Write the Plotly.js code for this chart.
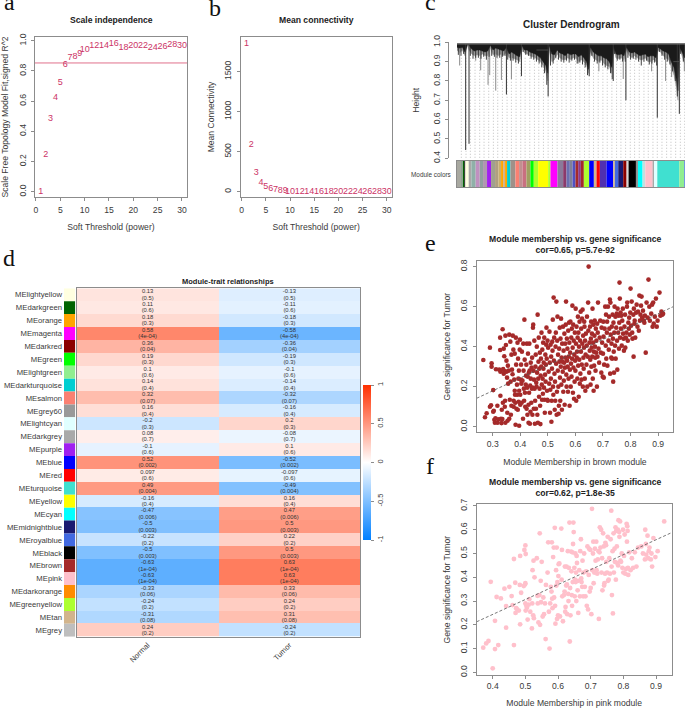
<!DOCTYPE html>
<html><head><meta charset="utf-8">
<script src="https://cdn.plot.ly/plotly-3.0.1.min.js"></script>
<style>html,body{margin:0;padding:0;background:#fff}</style></head>
<body><div id="chart" style="width:685px;height:708px"></div>
<script>
// ---- panels a, b
const powers=[1,2,3,4,5,6,7,8,9,10,12,14,16,18,20,22,24,26,28,30];
const scaleFit=[0,0.245,0.48,0.625,0.723,0.838,0.886,0.895,0.916,0.94,0.965,0.97,0.978,0.956,0.97,0.97,0.954,0.963,0.976,0.97];
const meanConn=[1850,587,237,108,58,37,21,13,8,5,3,2,1,1,1,1,0,0,0,0];
const cutHeight=0.853;
// ---- panel c (leaf position along the dendrogram, height)
const dendX=[172,180,188,196,204,208,216,224,232,240,248,256,264,272,280,288,296,304,312,320,328,336,344,352,360,366,374,382,390,398,406,414,422,430,438,444,448,456,464,472,480,488,496,504,512,520,528,536,544,552,560,566,572,580,588,596,604,612,620,628,636,641,648,656,664,672,680,688,696,704,712,720,728,736,744,752,760,768,774,782,790,798,806,814,822,830,834,838,846,854];
const dendBlack=[.975,.97,.975,.95,.99,.985,.965,.955,.96,.96,.955,.95,.955,.985,.96,.97,.965,.96,.955,.975,.94,.95,.94,.93,.925,.985,.96,.96,.95,.945,.94,.93,.92,.9,.88,.84,.985,.94,.935,.96,.945,.94,.93,.945,.935,.94,.94,.925,.935,.92,.9,.86,.975,.95,.94,.93,.93,.92,.915,.9,.87,.98,.94,.935,.94,.93,.975,.95,.945,.95,.94,.93,.935,.94,.925,.93,.93,.92,.975,.965,.955,.95,.94,.9,.87,.8,.75,.98,.95,.92];
const dendGrey=[.96,.945,.96,.93,.99,.96,.94,.93,.935,.93,.94,.93,.93,.97,.935,.94,.93,.94,.93,.95,.92,.92,.915,.91,.9,.97,.945,.94,.93,.925,.92,.91,.9,.88,.85,.8,.96,.9,.91,.94,.92,.91,.91,.92,.91,.92,.92,.9,.91,.9,.88,.84,.95,.92,.91,.9,.91,.89,.88,.875,.84,.97,.92,.915,.92,.91,.96,.93,.92,.93,.92,.91,.91,.92,.9,.9,.91,.9,.96,.95,.93,.92,.91,.87,.83,.76,.7,.97,.93,.89];
const stickX=[176,184,192,212,220,228,236,244,252,260,268,276,284,292,300,308,316,324,332,340,348,356,370,378,386,394,402,410,418,426,434,441,452,460,468,476,484,492,500,508,516,524,532,540,548,556,563,576,584,592,600,608,616,624,632,637,644,652,660,668,676,684,692,700,708,716,724,732,740,748,756,764,770,778,786,794,802,810,818,826,842,850];
const stickLow=[.935,.93,.94,.93,.915,.92,.92,.915,.925,.91,.925,.93,.925,.92,.92,.925,.93,.91,.905,.905,.895,.89,.95,.935,.93,.915,.91,.90,.89,.87,.84,.78,.88,.89,.92,.91,.90,.895,.905,.895,.905,.91,.89,.895,.885,.87,.83,.93,.90,.89,.895,.88,.87,.86,.84,.81,.94,.905,.91,.90,.90,.92,.91,.915,.91,.90,.88,.90,.905,.885,.89,.895,.88,.95,.93,.91,.90,.885,.85,.80,.94,.90];
const spikeDarkX=[198,208,320,365,445,568,640,678,772,832,838];
const spikeDarkLow=[.443,.475,.73,.825,.72,.825,.80,.70,.61,.72,.63];
const spikeGreyX=[180,228,243,265,270,288,305,335,535,597,670,755,797,815,853];
const spikeGreyLow=[.88,.905,.855,.78,.83,.75,.805,.81,.89,.85,.81,.85,.80,.82,.85];
const mergeStart=[410,820];
const mergeEnd=[445,838];
const mergeHeight=[.96,.9];
const guideX=[185,199,212,226,240,253,267,281,294,308,322,335,349,363,376,390,404,417,431,445,458,472,486,499,513,527,540,554,568,581,595,609,622,636,650,663,677,691,704,718,732,745,759,772,786,800,813,827,841,854];
const bandColors=['#a8a8a0','#8fa890','#006400','#000000','#ffffe0','#a9a9a9','#8fb0a8','#c090c0','#90a0a0','#b098b0','#a020f0','#a0a090','#b0a080','#c8b070','#ffa500','#d2b48c','#ffa500','#00ced1','#a09088','#fa8072','#c09090','#c87080','#a0a060','#00ff00','#adff2f','#ffff00','#adff2f','#ff00ff','#8a7a9a','#8b3a6a','#6a70b0','#808098','#5050c0','#a52a2a','#8b3a8a','#a52a2a','#adff2f','#0000ff','#d2b48c','#ff0000','#5030b0','#0000ff','#d2b48c','#4169e1','#191970','#8b0000','#d8d8d8','#000000','#909090','#00ffff','#c0e0e0','#ffc0cb','#a0a0a0','#e0ffff','#40e0d0','#90ee90','#4169e1'];
const bandWidths=[12,6,4,3,10,8,13,12,10,12,12,12,10,8,6,6,6,10,15,11,10,12,12,10,13,30,7,21,17,10,10,8,9,8,8,9,16,14,8,10,20,20,5,10,15,10,6,22,6,14,8,22,4,10,66,15,2];
// ---- panel d
const modules=['MElightyellow','MEdarkgreen','MEorange','MEmagenta','MEdarkred','MEgreen','MElightgreen','MEdarkturquoise','MEsalmon','MEgrey60','MElightcyan','MEdarkgrey','MEpurple','MEblue','MEred','MEturquoise','MEyellow','MEcyan','MEmidnightblue','MEroyalblue','MEblack','MEbrown','MEpink','MEdarkorange','MEgreenyellow','MEtan','MEgrey'];
const moduleColors=['#ffffe0','#006400','#ffa500','#ff00ff','#8b0000','#00ff00','#90ee90','#00ced1','#fa8072','#999999','#e0ffff','#a9a9a9','#a020f0','#0000ff','#ff0000','#40e0d0','#ffff00','#00ffff','#191970','#4169e1','#000000','#a52a2a','#ffc0cb','#ff8c00','#adff2f','#d2b48c','#bebebe'];
const traits=['Normal','Tumor'];
const corNormal=['0.13','0.11','0.18','0.58','0.36','0.19','0.1','0.14','0.32','0.16','-0.2','0.08','-0.1','0.52','0.097','0.49','-0.16','-0.47','-0.5','-0.22','-0.5','-0.63','-0.63','-0.33','-0.24','-0.31','0.24'];
const corTumor=['-0.13','-0.11','-0.18','-0.58','-0.36','-0.19','-0.1','-0.14','-0.32','-0.16','0.2','-0.08','0.1','-0.52','-0.097','-0.49','0.16','0.47','0.5','0.22','0.5','0.63','0.63','0.33','0.24','0.31','-0.24'];
const pValues=['0.5','0.6','0.3','4e-04','0.04','0.3','0.6','0.4','0.07','0.4','0.3','0.7','0.6','0.002','0.6','0.004','0.4','0.006','0.003','0.2','0.003','1e-04','1e-04','0.06','0.2','0.08','0.2'];
const corScale=[[0,'#0080ff'],[0.5,'#ffffff'],[1,'#ff3000']];
// ---- panel e (membership, significance, in thousandths)
const brownPoints=[[266,333],[272,47],[278,67],[290,395],[290,100],[294,107],[296,317],[296,300],[302,183],[302,75],[304,80],[306,35],[308,20],[310,42],[312,287],[317,105],[318,20],[320,37],[324,285],[327,383],[327,445],[328,155],[328,275],[330,40],[332,18],[333,85],[335,38],[336,487],[337,120],[338,288],[340,390],[340,265],[342,278],[342,352],[344,100],[345,130],[346,455],[346,20],[348,408],[350,275],[350,330],[352,245],[353,70],[354,30],[355,305],[356,215],[358,280],[360,40],[360,460],[362,135],[364,425],[365,225],[366,60],[368,360],[368,105],[370,285],[372,262],[373,455],[375,385],[376,100],[376,130],[378,235],[380,180],[380,365],[381,160],[382,120],[383,10],[384,445],[385,310],[386,90],[388,210],[389,160],[390,420],[391,85],[392,340],[393,240],[394,125],[395,280],[396,5],[396,180],[398,385],[399,435],[400,110],[400,160],[402,235],[403,310],[404,215],[405,120],[406,375],[408,230],[410,40],[411,415],[412,280],[413,190],[414,130],[415,535],[416,335],[417,170],[418,100],[420,210],[421,255],[422,310],[423,90],[424,415],[425,195],[426,60],[427,250],[428,365],[430,20],[430,110],[431,270],[432,170],[433,415],[434,280],[435,15],[436,205],[437,75],[438,320],[438,240],[440,120],[441,295],[442,190],[443,345],[444,60],[445,195],[446,495],[447,510],[448,280],[449,90],[450,235],[451,430],[452,190],[453,15],[454,130],[455,300],[456,360],[457,90],[458,220],[459,200],[460,400],[461,270],[462,60],[463,560],[464,20],[465,240],[466,325],[467,445],[468,150],[469,290],[470,190],[471,370],[472,105],[473,13],[474,255],[475,340],[476,300],[477,470],[478,210],[479,135],[480,385],[481,240],[482,165],[483,420],[484,290],[485,320],[486,195],[487,445],[488,135],[489,70],[490,260],[491,360],[492,225],[493,310],[494,410],[495,495],[496,340],[497,180],[498,135],[499,430],[500,130],[501,395],[503,275],[505,215],[506,475],[507,320],[508,70],[509,185],[510,410],[511,240],[512,350],[513,25],[514,130],[515,290],[516,425],[517,380],[518,535],[519,200],[520,160],[521,645],[522,330],[523,445],[524,265],[525,85],[526,225],[527,130],[528,400],[529,470],[530,315],[531,625],[532,60],[533,175],[534,430],[535,550],[536,280],[537,360],[538,200],[539,65],[540,105],[541,390],[542,325],[543,495],[544,245],[545,130],[546,440],[547,300],[548,540],[549,210],[550,345],[551,85],[552,415],[553,325],[554,275],[555,500],[556,175],[557,380],[558,230],[559,320],[560,465],[561,110],[562,295],[563,415],[564,345],[565,510],[566,625],[567,260],[568,200],[569,440],[570,330],[571,390],[572,300],[573,175],[574,480],[575,240],[576,350],[577,520],[578,420],[579,105],[580,285],[581,370],[582,525],[583,200],[584,315],[585,445],[586,250],[587,490],[588,340],[589,605],[590,395],[591,170],[592,510],[593,295],[594,430],[595,140],[596,360],[597,225],[598,470],[599,330],[600,280],[601,590],[602,415],[603,130],[604,500],[605,345],[606,375],[607,240],[608,445],[609,550],[610,305],[611,470],[612,150],[613,400],[614,335],[615,525],[616,215],[617,430],[618,265],[619,575],[620,375],[621,490],[622,235],[623,310],[624,540],[625,415],[626,585],[627,200],[628,455],[629,345],[630,290],[631,395],[632,525],[633,500],[634,240],[635,430],[636,180],[637,360],[638,465],[640,310],[641,405],[642,550],[643,200],[645,350],[646,620],[647,480],[648,800],[650,270],[651,420],[652,380],[653,500],[654,335],[655,210],[656,440],[657,525],[658,300],[659,395],[660,465],[661,350],[662,590],[663,240],[664,420],[665,510],[666,180],[667,375],[668,305],[669,455],[670,530],[671,400],[672,345],[673,280],[674,490],[675,370],[676,430],[678,200],[679,515],[680,350],[681,470],[682,620],[684,390],[686,320],[688,445],[690,530],[692,370],[694,270],[695,495],[697,420],[699,250],[700,365],[701,525],[702,450],[703,245],[704,310],[706,490],[708,600],[710,405],[711,560],[712,340],[714,470],[715,525],[716,305],[718,600],[720,430],[721,385],[722,550],[723,490],[725,635],[726,265],[727,620],[728,460],[730,345],[731,415],[732,500],[733,340],[735,560],[736,440],[737,225],[738,520],[739,375],[740,270],[741,470],[742,600],[744,405],[745,550],[746,340],[748,495],[750,565],[751,430],[752,285],[753,590],[755,470],[756,555],[758,390],[759,520],[760,720],[761,640],[762,445],[764,570],[765,490],[766,555],[768,405],[770,530],[772,590],[773,465],[775,440],[776,380],[778,500],[780,560],[781,395],[783,445],[785,470],[787,600],[788,620],[790,430],[792,520],[794,490],[795,545],[797,460],[799,570],[800,690],[802,505],[804,625],[806,470],[807,440],[810,560],[811,350],[812,590],[814,515],[815,530],[817,445],[820,570],[822,610],[825,500],[827,575],[830,480],[832,655],[834,530],[836,560],[838,605],[840,650],[842,545],[845,580],[848,530],[850,520],[852,555],[855,370],[858,620],[862,545],[865,735],[868,600],[870,530],[875,565],[878,610],[880,500],[882,620],[884,515],[888,550],[892,640],[895,500],[898,530],[905,670],[908,555],[912,575],[915,560],[918,565]];
const brownFitX=[0.242,0.955];
const brownFitY=[0.142,0.6];
// ---- panel f
const pinkPoints=[[371,104],[380,122],[387,132],[394,381],[400,17],[407,98],[407,217],[412,317],[417,115],[425,311],[436,352],[441,188],[441,279],[451,360],[458,321],[461,283],[465,115],[465,477],[469,377],[470,250],[472,270],[475,265],[480,260],[483,368],[484,490],[484,202],[487,335],[495,363],[497,515],[499,370],[500,534],[501,498],[500,375],[500,290],[501,260],[503,280],[505,272],[507,222],[510,285],[512,308],[515,255],[520,185],[521,290],[522,430],[524,240],[525,470],[526,228],[528,400],[535,480],[537,322],[538,290],[540,210],[543,325],[544,585],[545,200],[547,385],[548,295],[550,465],[553,235],[555,315],[557,245],[560,290],[562,140],[563,368],[568,420],[570,547],[572,255],[574,100],[576,290],[578,360],[580,340],[581,547],[582,310],[583,270],[585,485],[587,525],[588,315],[590,608],[591,280],[592,205],[594,430],[595,365],[596,525],[597,225],[598,380],[600,240],[601,405],[602,455],[604,458],[606,235],[610,605],[611,390],[612,515],[613,320],[615,215],[618,325],[620,340],[621,445],[622,255],[623,275],[625,365],[626,445],[627,370],[628,245],[630,510],[631,330],[632,300],[633,440],[635,630],[636,130],[637,355],[638,240],[640,508],[641,425],[642,325],[643,280],[644,505],[645,380],[646,540],[647,630],[648,590],[650,440],[651,320],[652,390],[653,500],[654,380],[655,420],[656,300],[657,490],[658,460],[660,345],[661,385],[662,250],[665,430],[667,320],[668,510],[670,560],[671,395],[672,380],[674,360],[675,470],[677,320],[678,420],[680,500],[682,360],[684,320],[686,425],[688,280],[690,530],[692,265],[694,410],[695,520],[697,340],[699,515],[700,355],[702,245],[704,688],[705,430],[707,500],[708,550],[709,375],[711,420],[713,520],[715,470],[717,550],[718,430],[720,415],[722,475],[724,510],[725,225],[727,505],[728,610],[730,525],[732,600],[733,420],[735,480],[736,345],[738,585],[740,530],[741,365],[742,375],[744,415],[745,545],[747,535],[748,465],[750,420],[752,570],[753,385],[755,390],[757,480],[759,415],[761,560],[763,680],[764,445],[765,325],[767,510],[768,248],[770,585],[771,420],[773,520],[774,465],[776,610],[777,390],[778,595],[780,530],[781,460],[783,600],[784,450],[785,640],[787,590],[788,570],[790,635],[791,470],[793,465],[795,500],[797,440],[799,600],[800,420],[802,490],[804,580],[806,415],[808,435],[810,625],[811,550],[812,615],[813,595],[814,440],[815,410],[818,505],[822,430],[826,480],[830,440],[835,505],[840,445],[845,525],[855,530],[860,500],[866,475],[867,600],[869,540],[870,495],[874,575],[876,480],[878,510],[880,525],[884,475],[886,500],[888,445],[892,565],[898,485],[905,510],[925,635]];
const pinkFitX=[0.351,0.948];
const pinkFitY=[0.213,0.588];

// ---- layout helpers
const W=685,H=708,SANS='"Liberation Sans",Arial,sans-serif',SERIF='"Liberation Serif",serif',INK='#3a3a3a',BOX='#8c8c8c',RED='#cc3366';
const dx=(a,b)=>[a/W,b/W], dy=(t,b)=>[1-b/H,1-t/H];
const tf={family:SANS,size:8.6,color:INK};
function rAxis(dom,range,extra){return Object.assign({domain:dom,range:range,showgrid:false,zeroline:false,showline:true,mirror:true,linecolor:BOX,linewidth:1,ticks:'outside',ticklen:3,tickwidth:1,tickcolor:BOX,tickfont:tf},extra);}
function hidden(dom,range,extra){return Object.assign({domain:dom,range:range,showgrid:false,zeroline:false,showticklabels:false,ticks:'',showline:false},extra);}
function axTitle(t,s){return {text:t,font:tf,standoff:s};}
function note(t,px,py,o){return Object.assign({text:t,xref:'paper',yref:'paper',x:px/W,y:1-py/H,showarrow:false,xanchor:'center',yanchor:'middle',font:{family:SANS,size:8.6,color:'#222'}},o||{});}
function letter(t,px,py){return note(t,px,py,{font:{family:SERIF,size:24,color:'#111'},xanchor:'left',yanchor:'bottom'});}
const thousandths=v=>v/1000;

// ---- traces
const traces=[];
traces.push({type:'scatter',mode:'lines',x:[-5,40],y:[cutHeight,cutHeight],line:{color:'#e0708c',width:1},xaxis:'x',yaxis:'y',hoverinfo:'skip'});
traces.push({type:'scatter',mode:'text',x:powers,y:scaleFit,text:powers.map(String),textfont:{family:SANS,size:9,color:RED},textposition:'middle center',xaxis:'x',yaxis:'y'});
traces.push({type:'scatter',mode:'text',x:powers,y:meanConn,text:powers.map(String),textfont:{family:SANS,size:9,color:RED},textposition:'middle center',xaxis:'x2',yaxis:'y2'});
// dendrogram
const gx=[],gy=[];
guideX.forEach(v=>{gx.push(v,v,null);gy.push(0.92,0.4,null);});
traces.push({type:'scatter',mode:'lines',x:gx,y:gy,line:{color:'#b0b0b0',width:0.8,dash:'1px,2px'},xaxis:'x3',yaxis:'y3',hoverinfo:'skip'});
const mergeTop=0.993;
function massTrace(low,color){return {type:'scatter',mode:'lines',x:dendX.concat(dendX.slice().reverse()),y:low.concat(dendX.map(()=>mergeTop)),fill:'toself',fillcolor:color,line:{color:color,width:0.5},xaxis:'x3',yaxis:'y3',hoverinfo:'skip'};}
traces.push(massTrace(dendGrey,'#9a9a9a'));
function spikes(xs,lows,color,w){const x=[],y=[];xs.forEach((v,i)=>{x.push(v,v,null);y.push(mergeTop,lows[i],null);});return {type:'scatter',mode:'lines',x:x,y:y,line:{color:color,width:w},xaxis:'x3',yaxis:'y3',hoverinfo:'skip'};}
traces.push(spikes(spikeGreyX,spikeGreyLow,'#8a8a8a',1));
traces.push(spikes(stickX,stickLow,'#2a2a2a',0.9));
traces.push(massTrace(dendBlack,'#1a1a1a'));
traces.push(spikes(spikeDarkX,spikeDarkLow,'#333333',1));
const mx=[],my=[];
mergeStart.forEach((v,i)=>{mx.push(v,mergeEnd[i],null);my.push(mergeHeight[i],mergeHeight[i],null);});
traces.push({type:'scatter',mode:'lines',x:mx,y:my,line:{color:'#555',width:0.8},xaxis:'x3',yaxis:'y3',hoverinfo:'skip'});
traces.push({type:'scatter',mode:'lines',x:[172,855],y:[mergeTop,mergeTop],line:{color:'#777',width:1.5},xaxis:'x3',yaxis:'y3',hoverinfo:'skip'});
let cum=172;const bandCentres=bandWidths.map(w=>{const c=cum+w/2;cum+=w;return c;});
traces.push({type:'bar',x:bandCentres,y:bandWidths.map(()=>1),width:bandWidths,marker:{color:bandColors,line:{width:0}},xaxis:'x4',yaxis:'y4',hoverinfo:'skip'});
// module heat map
traces.push({type:'bar',orientation:'h',y:modules,x:modules.map(()=>1),width:modules.map(()=>1),marker:{color:moduleColors,line:{width:0}},xaxis:'x5',yaxis:'y5',hoverinfo:'skip'});
traces.push({type:'heatmap',x:[0,1],y:modules.map((m,i)=>i),z:modules.map((m,i)=>[+corNormal[i],+corTumor[i]]),
 zmin:-1,zmax:1,colorscale:corScale,xaxis:'x6',yaxis:'y6',xgap:0,ygap:0,
 colorbar:{thickness:8.4,thicknessmode:'pixels',len:155,lenmode:'pixels',x:363.3/W,xanchor:'left',y:1-462.5/H,yanchor:'middle',outlinewidth:0,ticks:'outside',ticklen:3,tickcolor:BOX,tickvals:[-1,-0.5,0,0.5,1],ticktext:['-1','-0.5','0','0.5','1'],tickangle:-90,tickfont:{family:SANS,size:7.5,color:INK},xpad:0,ypad:0}});
const cellFont={family:SANS,size:5.8,color:'#333'};
function cellText(col,vals,shift,wrap){return {type:'scatter',mode:'text',x:modules.map(()=>col),y:modules.map((m,i)=>i+shift),text:vals.map(wrap),textfont:cellFont,textposition:'middle center',xaxis:'x6',yaxis:'y6',hoverinfo:'skip'};}
const plain=v=>v, paren=v=>'('+v+')';
traces.push(cellText(0,corNormal,-0.24,plain));
traces.push(cellText(0,pValues,0.26,paren));
traces.push(cellText(1,corTumor,-0.24,plain));
traces.push(cellText(1,pValues,0.26,paren));
// scatters
traces.push({type:'scatter',mode:'markers',x:brownPoints.map(p=>thousandths(p[0])),y:brownPoints.map(p=>thousandths(p[1])),marker:{color:'#a52a2a',size:4.6},xaxis:'x7',yaxis:'y7'});
traces.push({type:'scatter',mode:'lines',x:brownFitX,y:brownFitY,line:{color:'#555',width:0.8,dash:'3px,2px'},xaxis:'x7',yaxis:'y7',hoverinfo:'skip'});
traces.push({type:'scatter',mode:'markers',x:pinkPoints.map(p=>thousandths(p[0])),y:pinkPoints.map(p=>thousandths(p[1])),marker:{color:'#ffc0cb',size:4.8},xaxis:'x8',yaxis:'y8'});
traces.push({type:'scatter',mode:'lines',x:pinkFitX,y:pinkFitY,line:{color:'#555',width:0.8,dash:'3px,2px'},xaxis:'x8',yaxis:'y8',hoverinfo:'skip'});

// ---- layout
const yExtra={tickangle:-90,ticklabelstandoff:2};
const layout={width:W,height:H,margin:{l:0,r:0,t:0,b:0},paper_bgcolor:'#fff',plot_bgcolor:'#fff',showlegend:false,font:{family:SANS},
 xaxis:rAxis(dx(35,187),[-0.2,31.03],{anchor:'y',ticklabelstandoff:1,tickvals:[0,5,10,15,20,25,30],title:axTitle('Soft Threshold (power)',10)}),
 yaxis:rAxis(dy(36.7,197.3),[-0.037,1.027],Object.assign({anchor:'x',tickvals:[0,0.2,0.4,0.6,0.8,1],ticktext:['0.0','0.2','0.4','0.6','0.8','1.0'],title:axTitle('Scale Free Topology Model Fit,signed R^2',7)},yExtra)),
 xaxis2:rAxis(dx(240.7,391.7),[-0.2,31.04],{anchor:'y2',ticklabelstandoff:1,tickvals:[0,5,10,15,20,25,30],title:axTitle('Soft Threshold (power)',10)}),
 yaxis2:rAxis(dy(36.7,197.3),[-70,1937],Object.assign({anchor:'x2',tickvals:[0,500,1000,1500],title:axTitle('Mean Connectivity',7)},yExtra)),
 xaxis3:hidden(dx(457,685),[172,855],{anchor:'y3'}),
 yaxis3:Object.assign({domain:dy(42.3,158.3),range:[0.4,1],anchor:'free',position:448/W,side:'left',showgrid:false,zeroline:false,showline:true,linecolor:BOX,ticks:'outside',ticklen:3,tickcolor:BOX,tickfont:tf,tickvals:[0.4,0.5,0.6,0.7,0.8,0.9,1],ticktext:['0.4','0.5','0.6','0.7','0.8','0.9','1.0'],title:axTitle('Height',9)},yExtra),
 xaxis4:hidden(dx(457,685),[172,855],{anchor:'y4',showline:true,mirror:true,linecolor:BOX}),
 yaxis4:hidden(dy(161,187.3),[0,1],{anchor:'x4',showline:true,mirror:true,linecolor:BOX}),
 xaxis5:hidden(dx(64,75.3),[0,1],{anchor:'y5'}),
 yaxis5:{domain:dy(288.3,636.7),range:[26.5,-0.5],type:'category',categoryorder:'array',categoryarray:modules,anchor:'x5',showgrid:false,zeroline:false,showline:false,ticks:'',ticklen:0,tickfont:{family:SANS,size:7.7,color:INK},ticklabelstandoff:1},
 xaxis6:rAxis(dx(76.7,360.3),[-0.5,1.5],{anchor:'y6',ticks:'',tickangle:-45,tickvals:[0,1],ticktext:traits,tickfont:{family:SANS,size:7.6,color:INK}}),
 yaxis6:rAxis(dy(288.3,636.7),[26.5,-0.5],{anchor:'x6',ticks:'',showticklabels:false}),
 xaxis7:rAxis(dx(476.7,673.3),[0.242,0.955],{anchor:'y7',tickvals:[0.3,0.4,0.5,0.6,0.7,0.8,0.9],title:axTitle('Module Membership in brown module',11)}),
 yaxis7:rAxis(dy(261,432.3),[-0.028,0.828],Object.assign({anchor:'x7',tickvals:[0,0.2,0.4,0.6,0.8],ticktext:['0.0','0.2','0.4','0.6','0.8'],title:axTitle('Gene significance for Tumor',7)},yExtra)),
 xaxis8:rAxis(dx(476.7,671.7),[0.351,0.948],{anchor:'y8',tickvals:[0.4,0.5,0.6,0.7,0.8,0.9],title:axTitle('Module Membership in pink module',9)}),
 yaxis8:rAxis(dy(504.3,675),[-0.011,0.707],Object.assign({anchor:'x8',tickvals:[0,0.1,0.2,0.3,0.4,0.5,0.6,0.7],ticktext:['0.0','0.1','0.2','0.3','0.4','0.5','0.6','0.7'],title:axTitle('Gene significance for Tumor',7)},yExtra)),
 annotations:[
  note('<b>Scale independence</b>',111,20),
  note('<b>Mean connectivity</b>',316,20),
  note('<b>Cluster Dendrogram</b>',571,24,{font:{family:SANS,size:10,color:'#222'}}),
  note('Module colors',453,174,{xanchor:'right',font:{family:SANS,size:6.4,color:INK}}),
  note('<b>Module-trait relationships</b>',228,281,{font:{family:SANS,size:7.5,color:'#222'}}),
  note('<b>Module membership vs. gene significance<br>cor=0.65, p=5.7e-92</b>',575,244.5),
  note('<b>Module membership vs. gene significance<br>cor=0.62, p=1.8e-35</b>',575,487.5),
  letter('a',2,17),letter('b',207,23),letter('c',423,17),letter('d',1,273),letter('e',423,258),letter('f',424,481)
 ]};
Plotly.newPlot('chart',traces,layout,{staticPlot:true,displayModeBar:false});
</script></body></html>
